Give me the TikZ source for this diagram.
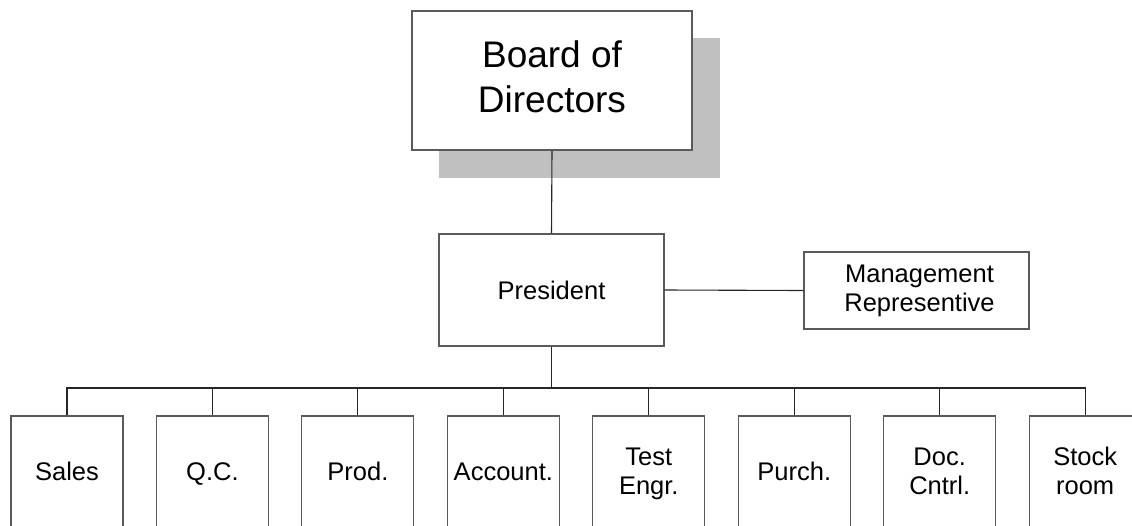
\documentclass[tikz,border=0pt]{standalone}
\usepackage{fontspec}
\setmainfont{Liberation Sans}
\definecolor{shadowgray}{RGB}{192,192,192}
\definecolor{edgegray}{RGB}{90,90,90}
\begin{document}
\begin{tikzpicture}[x=1pt,y=-1pt,
  box/.style={draw=edgegray, line width=1.1pt, fill=white, rectangle, inner sep=0pt, align=center},
  bigtext/.style={font=\fontsize{37}{45}\selectfont, align=center, inner sep=0pt},
  midtext/.style={font=\fontsize{25.5}{28.5}\selectfont},
  dept/.style={box, midtext, minimum width=112pt, minimum height=111pt},
  link/.style={draw=black!85, line width=1.1pt}]
\useasboundingbox (0,0) rectangle (1132,525);
\clip (0,0) rectangle (1132,525);
\fill[shadowgray] (439,38) rectangle (720,178);
\node[box, minimum width=280pt, minimum height=139pt] (board) at (552,80.5) {};
\node[bigtext] (boardtext) at ([yshift=4pt]board.center) {Board of\\Directors};
\node[box, midtext, minimum width=225pt, minimum height=112pt] (pres) at (551.5,290) {President};
\node[box, minimum width=225pt, minimum height=77pt] (mgmt) at (916.5,290.5) {};
\node[midtext, align=center, inner sep=0pt] (mgmttext) at ([xshift=3pt,yshift=-1pt]mgmt.center) {\strut Management\\\strut Representive};
\coordinate (busc) at (0,388);
\foreach \i/\t [count=\k from 0] in {b1/{\strut Sales}, b2/{\strut Q.C.}, b3/{\strut Prod.}, b4/{\strut Account.}, b5/{\strut Test\\\strut Engr.}, b6/{\strut Purch.}, b7/{\strut Doc.\\\strut Cntrl.}, b8/{\strut Stock\\\strut room}} {
  \node[dept] (\i) at ({67+145.45*\k},471.5) {};
  \node[midtext, align=center, inner sep=0pt] (\i t) at ([yshift=-3pt]\i.center) {\t};
}
\draw[link] (board.south) -- (pres.north);
\draw[link] (pres.east) -- (mgmt.west);
\draw[link] (pres.south) -- (pres.south |- busc);
\draw[link] (b1.north) -- (b1.north |- busc) -- (b8.north |- busc) -- (b8.north);
\foreach \i in {b2,b3,b4,b5,b6,b7} {
  \draw[link] (\i.north) -- (\i.north |- busc);
}
\end{tikzpicture}
\end{document}
